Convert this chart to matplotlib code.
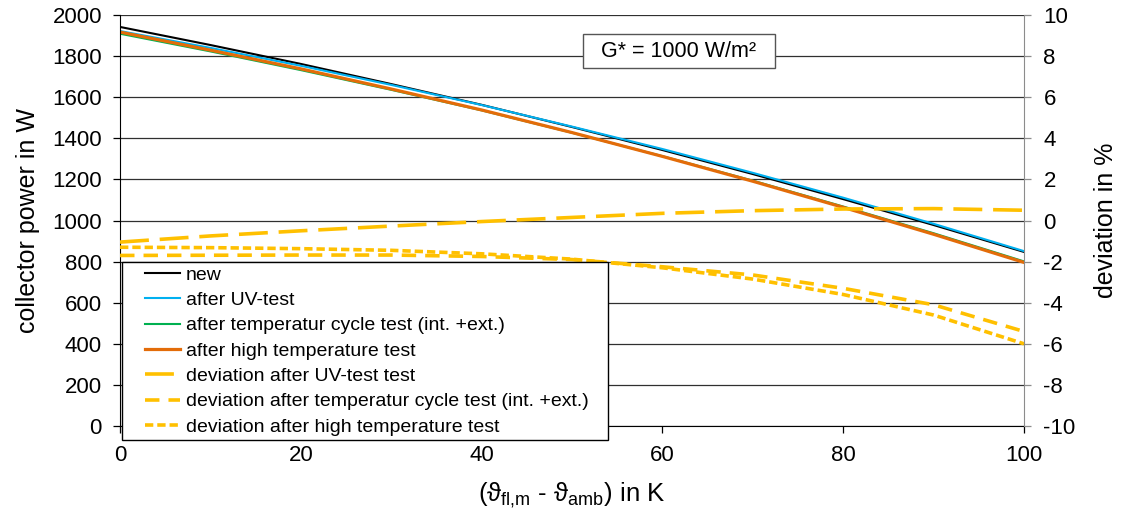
import matplotlib
matplotlib.use("Agg")
import matplotlib.pyplot as plt
from matplotlib.patches import Rectangle

plt.rcParams['font.family'] = ['Liberation Sans', 'DejaVu Sans']
plt.rcParams['mathtext.fontset'] = 'custom'
plt.rcParams['mathtext.rm'] = 'Liberation Sans'
plt.rcParams['mathtext.it'] = 'Liberation Sans'
plt.rcParams['axes.unicode_minus'] = False

# temperature difference in K
dT = [0, 10, 20, 30, 40, 50, 60, 70, 80, 90, 100]

# collector power in W
p_new = [1942, 1854, 1762, 1664, 1563, 1455, 1343, 1226, 1104, 978, 847]
p_uv = [1922, 1840, 1753, 1660, 1562, 1457, 1348, 1232, 1111, 984, 851]
p_cycle = [1909, 1823, 1732, 1636, 1536, 1427, 1313, 1194, 1068, 938, 801]
p_high = [1917, 1829, 1738, 1640, 1538, 1428, 1312, 1191, 1064, 933, 796]

# deviation in %
d_uv = [-1.05, -0.75, -0.5, -0.27, -0.05, 0.15, 0.35, 0.48, 0.56, 0.58, 0.5]
d_cycle = [-1.7, -1.69, -1.68, -1.68, -1.75, -1.9, -2.25, -2.65, -3.3, -4.1, -5.4]
d_high = [-1.3, -1.32, -1.37, -1.45, -1.62, -1.88, -2.3, -2.85, -3.6, -4.6, -6.0]

labels = ['new', 'after UV-test', 'after temperatur cycle test (int. +ext.)',
          'after high temperature test', 'deviation after UV-test test',
          'deviation after temperatur cycle test (int. +ext.)',
          'deviation after high temperature test']

yellow = '#FFC000'

fig = plt.figure(figsize=(11.22, 5.11), dpi=100)
ax = fig.add_axes([0.107, 0.1663, 0.8057, 0.8043])
ax2 = ax.twinx()

l1, = ax.plot(dT, p_new, color='black', lw=1.5)
l2, = ax.plot(dT, p_uv, color='#00B0F0', lw=1.5)
l3, = ax.plot(dT, p_cycle, color='#00B050', lw=1.5)
l4, = ax.plot(dT, p_high, color='#E36C09', lw=2.3)

l5, = ax2.plot(dT, d_uv, color=yellow, lw=2.6, dashes=(8, 3))
l6, = ax2.plot(dT, d_cycle, color=yellow, lw=2.6, dashes=(4, 2.5))
l7, = ax2.plot(dT, d_high, color=yellow, lw=2.6, dashes=(2.3, 1.1))

ax.set_xlim(0, 100)
ax.set_ylim(0, 2000)
ax2.set_ylim(-10, 10)
ax.set_xticks(range(0, 101, 20))
ax.set_yticks(range(0, 2001, 200))
ax2.set_yticks(range(-10, 11, 2))

ax.grid(axis='y', color='#303030', lw=0.9)
ax.set_axisbelow(True)

for a in (ax, ax2):
    a.spines['top'].set_visible(False)
ax.spines['left'].set_color('black')
ax.spines['bottom'].set_color('black')
ax2.spines['right'].set_color('#8c8c8c')
ax2.spines['left'].set_visible(False)
ax2.spines['bottom'].set_visible(False)
ax.spines['right'].set_visible(False)

ax.tick_params(axis='y', labelsize=16, length=5, direction='out', width=0.9, pad=8)
ax.tick_params(axis='x', labelsize=16, length=5, direction='out', width=0.9, pad=9)
ax2.tick_params(axis='y', labelsize=16, length=5, direction='out', width=0.9,
                color='#8c8c8c', pad=9)

ax.set_ylabel('collector power in W', fontsize=18, labelpad=9)
ax2.set_ylabel('deviation in %', fontsize=18, labelpad=13)
ax.set_xlabel(r'($\mathregular{ϑ_{fl{,}m}}$ - $\mathregular{ϑ_{amb}}$) in K',
              fontsize=18.5, labelpad=10)

ax.text(0.618, 0.912, '  G* = 1000 W/m²  ', transform=ax.transAxes, fontsize=15.5,
        ha='center', va='center',
        bbox=dict(boxstyle='square,pad=0.3', fc='white', ec='#555555', lw=1))

# legend frame drawn separately so it can hang below the axes
W, H = 1122, 511
fig.patches.append(Rectangle((122 / W, 1 - 440 / H), 486 / W, 178 / H,
                             transform=fig.transFigure, fc='white', ec='black',
                             lw=1, zorder=4))
fig.legend([l1, l2, l3, l4, l5, l6, l7], labels, loc='upper left',
           bbox_to_anchor=(143 / W, 1 - 264 / H), frameon=False, fontsize=14,
           handlelength=1.8, handletextpad=0.3, labelspacing=0.4,
           borderpad=0.1, borderaxespad=0)

fig.savefig('out.png', dpi=100)
